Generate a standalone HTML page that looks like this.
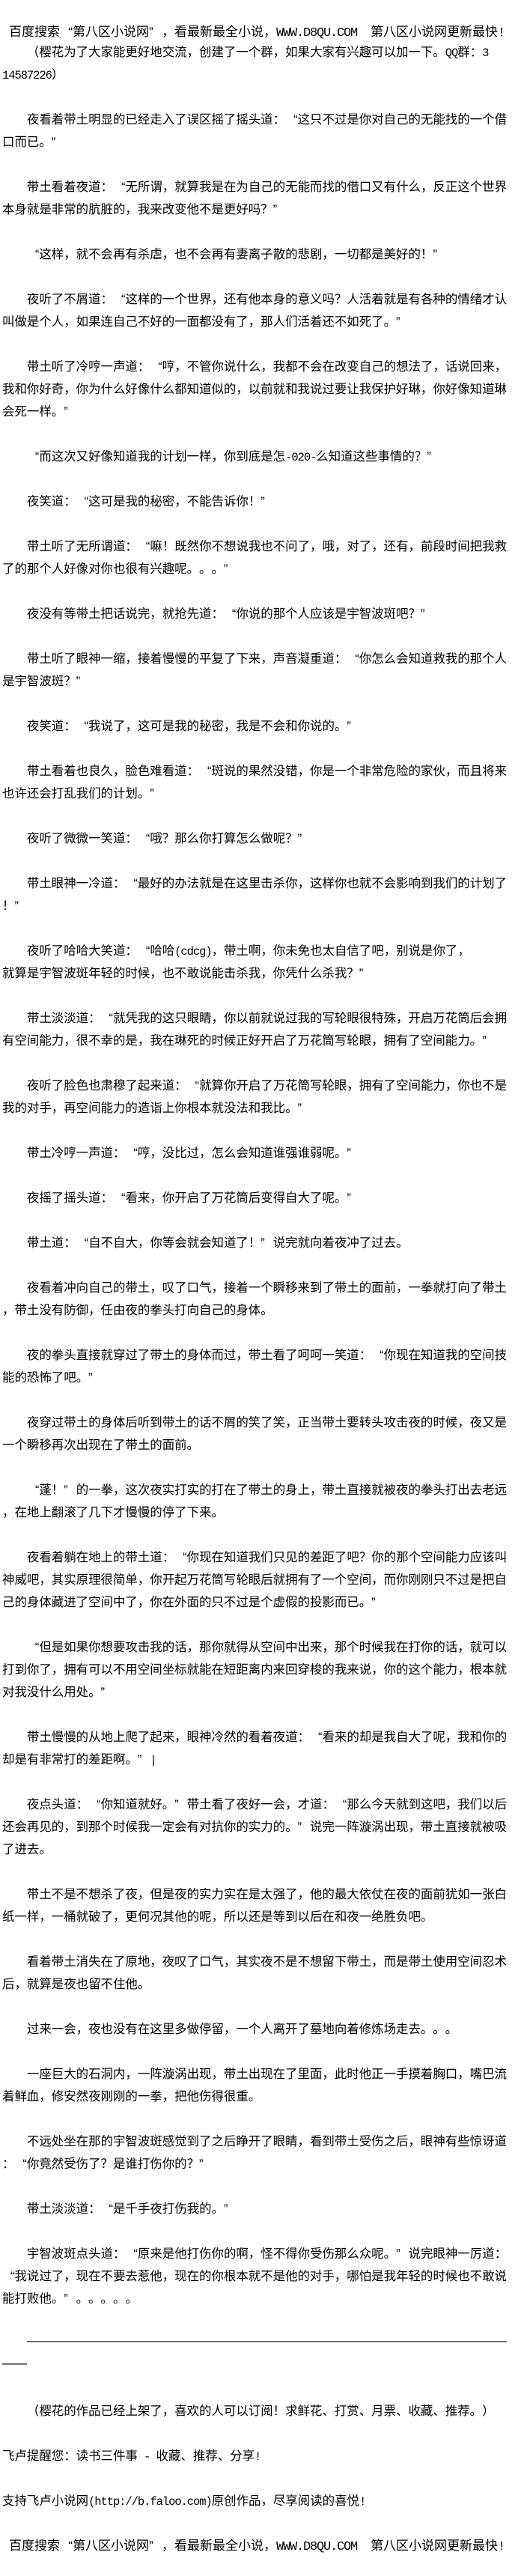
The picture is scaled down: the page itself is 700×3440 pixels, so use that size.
<!DOCTYPE html>
<html lang="zh-CN">
<head>
<meta charset="utf-8">
<style>
html,body{margin:0;padding:0;background:#fff;}
body{width:700px;height:3440px;position:relative;overflow:hidden;font-family:"Liberation Sans","Noto Sans CJK SC",sans-serif;font-size:16.46px;color:#000;text-spacing-trim:space-all;text-autospace:no-autospace;}
.w{position:absolute;left:0;top:55px;width:700px;}
.top{position:absolute;left:0;top:28px;width:700px;}
.w div,.top div{height:30px;line-height:30px;white-space:pre;padding-left:3px;}
.w div.p{padding-left:35.92px;}
i{font-style:normal;display:inline-block;width:1em;line-height:1;}
i.o{text-align:right;}
i.c{text-align:left;}
span.a{font-family:"Liberation Mono",monospace;font-size:15.5px;letter-spacing:-1.07px;line-height:1;}
div.h{font-size:17px;}
div.h span.a{font-size:17px;letter-spacing:-1.2px;}
span.d{position:relative;top:-4px;}
</style>
</head>
<body>
<div class="top"><div class="h"><span class="a"> </span>百度搜索<i class="o">“</i>第八区小说网<i class="c">”</i>，看最新最全小说，<span class="a">WWW.D8QU.COM  </span>第八区小说网更新最快<span class="a">!</span></div></div>
<div class="w">
<div class="p">（樱花为了大家能更好地交流，创建了一个群，如果大家有兴趣可以加一下。<span class="a">QQ</span>群：<span class="a">3</span></div>
<div><span class="a">14587226</span>）</div>
<div></div>
<div class="p">夜看着带土明显的已经走入了误区摇了摇头道：<i class="o">“</i>这只不过是你对自己的无能找的一个借</div>
<div>口而已。<i class="c">”</i></div>
<div></div>
<div class="p">带土看着夜道：<i class="o">“</i>无所谓，就算我是在为自己的无能而找的借口又有什么，反正这个世界</div>
<div>本身就是非常的肮脏的，我来改变他不是更好吗？<i class="c">”</i></div>
<div></div>
<div class="p"><i class="o">“</i>这样，就不会再有杀虐，也不会再有妻离子散的悲剧，一切都是美好的！<i class="c">”</i></div>
<div></div>
<div class="p">夜听了不屑道：<i class="o">“</i>这样的一个世界，还有他本身的意义吗？人活着就是有各种的情绪才认</div>
<div>叫做是个人，如果连自己不好的一面都没有了，那人们活着还不如死了。<i class="c">”</i></div>
<div></div>
<div class="p">带土听了冷哼一声道：<i class="o">“</i>哼，不管你说什么，我都不会在改变自己的想法了，话说回来，</div>
<div>我和你好奇，你为什么好像什么都知道似的，以前就和我说过要让我保护好琳，你好像知道琳</div>
<div>会死一样。<i class="c">”</i></div>
<div></div>
<div class="p"><i class="o">“</i>而这次又好像知道我的计划一样，你到底是怎<span class="a">-020-</span>么知道这些事情的？<i class="c">”</i></div>
<div></div>
<div class="p">夜笑道：<i class="o">“</i>这可是我的秘密，不能告诉你！<i class="c">”</i></div>
<div></div>
<div class="p">带土听了无所谓道：<i class="o">“</i>嘛！既然你不想说我也不问了，哦，对了，还有，前段时间把我救</div>
<div>了的那个人好像对你也很有兴趣呢。。。<i class="c">”</i></div>
<div></div>
<div class="p">夜没有等带土把话说完，就抢先道：<i class="o">“</i>你说的那个人应该是宇智波斑吧？<i class="c">”</i></div>
<div></div>
<div class="p">带土听了眼神一缩，接着慢慢的平复了下来，声音凝重道：<i class="o">“</i>你怎么会知道救我的那个人</div>
<div>是宇智波斑？<i class="c">”</i></div>
<div></div>
<div class="p">夜笑道：<i class="o">“</i>我说了，这可是我的秘密，我是不会和你说的。<i class="c">”</i></div>
<div></div>
<div class="p">带土看着也良久，脸色难看道：<i class="o">“</i>斑说的果然没错，你是一个非常危险的家伙，而且将来</div>
<div>也许还会打乱我们的计划。<i class="c">”</i></div>
<div></div>
<div class="p">夜听了微微一笑道：<i class="o">“</i>哦？那么你打算怎么做呢？<i class="c">”</i></div>
<div></div>
<div class="p">带土眼神一冷道：<i class="o">“</i>最好的办法就是在这里击杀你，这样你也就不会影响到我们的计划了</div>
<div>！<i class="c">”</i></div>
<div></div>
<div class="p">夜听了哈哈大笑道：<i class="o">“</i>哈哈<span class="a">(cdcg)</span>，带土啊，你未免也太自信了吧，别说是你了，</div>
<div>就算是宇智波斑年轻的时候，也不敢说能击杀我，你凭什么杀我？<i class="c">”</i></div>
<div></div>
<div class="p">带土淡淡道：<i class="o">“</i>就凭我的这只眼睛，你以前就说过我的写轮眼很特殊，开启万花筒后会拥</div>
<div>有空间能力，很不幸的是，我在琳死的时候正好开启了万花筒写轮眼，拥有了空间能力。<i class="c">”</i></div>
<div></div>
<div class="p">夜听了脸色也肃穆了起来道：<i class="o">“</i>就算你开启了万花筒写轮眼，拥有了空间能力，你也不是</div>
<div>我的对手，再空间能力的造诣上你根本就没法和我比。<i class="c">”</i></div>
<div></div>
<div class="p">带土冷哼一声道：<i class="o">“</i>哼，没比过，怎么会知道谁强谁弱呢。<i class="c">”</i></div>
<div></div>
<div class="p">夜摇了摇头道：<i class="o">“</i>看来，你开启了万花筒后变得自大了呢。<i class="c">”</i></div>
<div></div>
<div class="p">带土道：<i class="o">“</i>自不自大，你等会就会知道了！<i class="c">”</i>说完就向着夜冲了过去。</div>
<div></div>
<div class="p">夜看着冲向自己的带土，叹了口气，接着一个瞬移来到了带土的面前，一拳就打向了带土</div>
<div>，带土没有防御，任由夜的拳头打向自己的身体。</div>
<div></div>
<div class="p">夜的拳头直接就穿过了带土的身体而过，带土看了呵呵一笑道：<i class="o">“</i>你现在知道我的空间技</div>
<div>能的恐怖了吧。<i class="c">”</i></div>
<div></div>
<div class="p">夜穿过带土的身体后听到带土的话不屑的笑了笑，正当带土要转头攻击夜的时候，夜又是</div>
<div>一个瞬移再次出现在了带土的面前。</div>
<div></div>
<div class="p"><i class="o">“</i>蓬！<i class="c">”</i>的一拳，这次夜实打实的打在了带土的身上，带土直接就被夜的拳头打出去老远</div>
<div>，在地上翻滚了几下才慢慢的停了下来。</div>
<div></div>
<div class="p">夜看着躺在地上的带土道：<i class="o">“</i>你现在知道我们只见的差距了吧？你的那个空间能力应该叫</div>
<div>神威吧，其实原理很简单，你开起万花筒写轮眼后就拥有了一个空间，而你刚刚只不过是把自</div>
<div>己的身体藏进了空间中了，你在外面的只不过是个虚假的投影而已。<i class="c">”</i></div>
<div></div>
<div class="p"><i class="o">“</i>但是如果你想要攻击我的话，那你就得从空间中出来，那个时候我在打你的话，就可以</div>
<div>打到你了，拥有可以不用空间坐标就能在短距离内来回穿梭的我来说，你的这个能力，根本就</div>
<div>对我没什么用处。<i class="c">”</i></div>
<div></div>
<div class="p">带土慢慢的从地上爬了起来，眼神冷然的看着夜道：<i class="o">“</i>看来的却是我自大了呢，我和你的</div>
<div>却是有非常打的差距啊。<i class="c">”</i><span class="a">|</span></div>
<div></div>
<div class="p">夜点头道：<i class="o">“</i>你知道就好。<i class="c">”</i>带土看了夜好一会，才道：<i class="o">“</i>那么今天就到这吧，我们以后</div>
<div>还会再见的，到那个时候我一定会有对抗你的实力的。<i class="c">”</i>说完一阵漩涡出现，带土直接就被吸</div>
<div>了进去。</div>
<div></div>
<div class="p">带土不是不想杀了夜，但是夜的实力实在是太强了，他的最大依仗在夜的面前犹如一张白</div>
<div>纸一样，一桶就破了，更何况其他的呢，所以还是等到以后在和夜一绝胜负吧。</div>
<div></div>
<div class="p">看着带土消失在了原地，夜叹了口气，其实夜不是不想留下带土，而是带土使用空间忍术</div>
<div>后，就算是夜也留不住他。</div>
<div></div>
<div class="p">过来一会，夜也没有在这里多做停留，一个人离开了墓地向着修炼场走去。。。</div>
<div></div>
<div class="p">一座巨大的石洞内，一阵漩涡出现，带土出现在了里面，此时他正一手摸着胸口，嘴巴流</div>
<div>着鲜血，修安然夜刚刚的一拳，把他伤得很重。</div>
<div></div>
<div class="p">不远处坐在那的宇智波斑感觉到了之后睁开了眼睛，看到带土受伤之后，眼神有些惊讶道</div>
<div>：<i class="o">“</i>你竟然受伤了？是谁打伤你的？<i class="c">”</i></div>
<div></div>
<div class="p">带土淡淡道：<i class="o">“</i>是千手夜打伤我的。<i class="c">”</i></div>
<div></div>
<div class="p">宇智波斑点头道：<i class="o">“</i>原来是他打伤你的啊，怪不得你受伤那么众呢。<i class="c">”</i>说完眼神一厉道：</div>
<div><i class="o">“</i>我说过了，现在不要去惹他，现在的你根本就不是他的对手，哪怕是我年轻的时候也不敢说</div>
<div>能打败他。<i class="c">”</i>。。。。。</div>
<div></div>
<div class="p"><span class="d">———————————————————————————————————————</span></div>
<div><span class="d">——</span></div>
<div></div>
<div class="p">（樱花的作品已经上架了，喜欢的人可以订阅！求鲜花、打赏、月票、收藏、推荐。）</div>
<div></div>
<div>飞卢提醒您：读书三件事<span class="a"> - </span>收藏、推荐、分享<span class="a">!</span></div>
<div></div>
<div>支持飞卢小说网<span class="a">(http://b.faloo.com)</span>原创作品，尽享阅读的喜悦<span class="a">!</span></div>
<div></div>
<div class="h"><span class="a"> </span>百度搜索<i class="o">“</i>第八区小说网<i class="c">”</i>，看最新最全小说，<span class="a">WWW.D8QU.COM  </span>第八区小说网更新最快<span class="a">!</span></div>
</div>
</body>
</html>
